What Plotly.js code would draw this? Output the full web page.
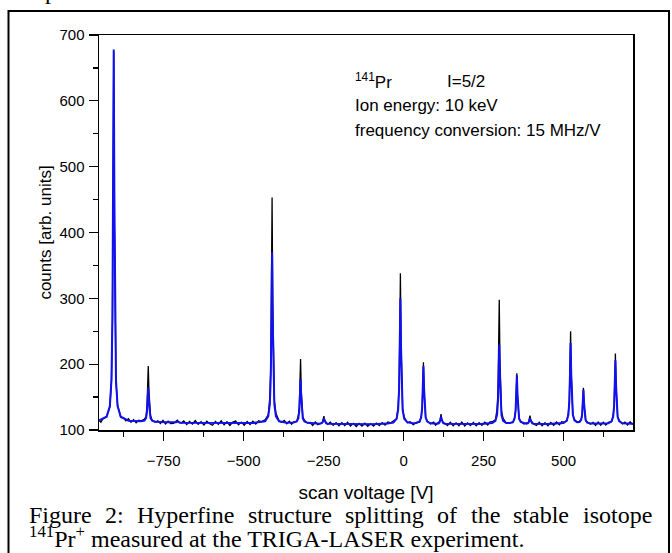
<!DOCTYPE html>
<html>
<head>
<meta charset="utf-8">
<script src="https://cdn.plot.ly/plotly-3.0.1.min.js"></script>
<style>html,body{margin:0;padding:0;background:#fff;} #chart{width:672px;height:553px;}</style>
</head>
<body>
<div id="chart"></div>
<script>
// ---- Data ----
// measured spectrum (black)
const dataVoltage = [
-952,-946,-940,-934,
-928,-918,-913,-910,-908,-906,-904,-902,-899,-894,-884,
-876,-868,-860,-852,-844,-836,-828,
-820,-810,-805,-802,-800,-798,-796,-794,-791,-786,-776,
-768,-760,-752,-744,-736,-728,
-719,-714,-711,-709,-707,-705,-703,-700,-695,
-687,-678,-669,-660,-651,-642,-633,-624,-615,-606,-597,-588,-579,-570,-561,-552,-543,-534,-525,-516,-507,-498,-489,-480,-471,-462,-453,-444,
-433,-423,-418,-415,-413,-411,-409,-407,-404,-399,-389,
-381,-373,-365,-357,-350,
-344,-334,-329,-326,-324,-322,-320,-318,-315,-310,-300,
-292,-284,-276,-268,
-261,-256,-253,-251,-249,-247,-245,-242,-237,
-229,-220,-211,-202,-193,-184,-175,-166,-157,-148,-139,-130,-121,-112,-103,-94,-85,-76,-67,-58,-49,-40,
-32,-22,-17,-14,-12,-10,-8,-6,-3,2,12,
20,30,
40,50,55,58,60,62,64,66,69,74,84,
94,100,
105,110,113,115,117,119,121,124,129,
137,146,155,164,173,182,191,200,209,218,227,236,245,254,263,270,
277,287,292,295,297,299,301,303,306,311,321,
327,
332,342,347,350,352,354,356,358,361,366,376,
383,388,391,393,395,397,399,402,407,
415,424,433,442,451,460,469,478,487,494,
500,510,515,518,520,522,524,526,529,534,542,
550,555,558,560,562,564,566,569,574,584,
592,600,608,616,624,632,
640,650,655,658,660,662,664,666,669,674,684,
692,700,708,716];
const dataCounts = [
114.9,111.8,117.0,118.3,
121.5,135.2,176,266,425,674,418,262,173,138,119,
118.6,113.9,117.3,111.8,115.7,110.9,114.8,
114,116.5,120.5,136,157,197,160,133.5,122,114.8,111.9,
114.1,109.9,114.6,109.3,113.5,109.8,
110.2,112.3,112.5,114,115,113.6,112.4,111.0,110.6,
113.8,108.2,112.9,109.1,114.2,108.6,112.5,107.7,113.3,109.4,107.2,113.0,108.8,113.9,107.9,112.4,107.0,112.1,113.6,107.8,112.0,107.1,112.9,108.4,113.2,108.9,114.0,112.3,
115.5,123,149,200,302,453,295,205,146,125.5,113.6,
111.8,114.6,109.4,113.3,108.9,
112.5,113.2,122,135,166,208,161,138,119.5,115,110.4,
111.4,106.9,112.2,108.1,
110.1,110.1,113.0,116.2,121,115.5,112.6,111.4,108.7,
111.9,107.0,111.2,106.4,111.0,106.8,111.6,106.0,110.1,105.4,109.9,105.8,110.3,105.6,109.7,106.0,110.5,106.7,111.3,107.4,112.2,110.8,
113.2,117,136,168,239,338,231,173,133,119.5,111,
112.6,108.2,
111.5,112,120.5,133,163,203,158,136,118.2,113.9,109.3,
112.0,107.3,
109.8,111.4,113.5,117.8,124,117.0,114.0,110.6,110.3,
106.8,111.6,106.4,110.9,106.5,112.2,106.1,110.6,106.7,111.5,106.5,111.0,107.0,111.9,107.6,112.4,
112.6,115.4,131.5,158,216,298,209,162.5,128.6,117.8,110.5,
111.2,
111.2,111.3,118.7,128.5,153.5,186,149.5,131.2,116.5,113.2,109,
110.6,110.5,112.8,116.5,122,116.0,112.6,111.5,109.1,
106.9,111.8,106.6,111.2,106.3,111.5,107.2,112.1,107.8,112.6,
112,113.6,126,145.5,189.5,250,183.5,149,123.4,115.8,112.5,
113.1,116.2,122.6,141.2,164,137.6,125,114.1,112.4,108.8,
111.7,106.8,112.2,107.3,111.9,107.6,
111.6,112.7,122,136.5,170,216,165.5,139.5,119.6,114.7,109.4,
112.1,107.5,112.5,108.2];

// fitted curve (blue)
const fitVoltage = [-952,
-928,-918,-913,-910,-908,-906,-904,-902,-899,-894,-884,
-860,
-820,-810,-805,-802,-800,-798,-796,-794,-791,-786,-776,
-740,
-719,-714,-711,-709,-707,-705,-703,-700,-695,
-650,-550,-470,
-433,-423,-418,-415,-413,-411,-409,-407,-404,-399,-389,
-365,
-344,-334,-329,-326,-324,-322,-320,-318,-315,-310,-300,
-261,-256,-253,-251,-249,-247,-245,-242,-237,
-180,-100,-50,
-32,-22,-17,-14,-12,-10,-8,-6,-3,2,12,
30,
40,50,55,58,60,62,64,66,69,74,84,
105,110,113,115,117,119,121,124,129,
180,240,
277,287,292,295,297,299,301,303,306,311,321,
332,342,347,350,352,354,356,358,361,366,376,
383,388,391,393,395,397,399,402,407,
450,
500,510,515,518,520,522,524,526,529,534,542,
550,555,558,560,562,564,566,569,574,584,
620,
640,650,655,658,660,662,664,666,669,674,684,
717];
const fitCounts = [114.6,
120.2,136.5,176.8,271.8,457.7,678,457.7,271.8,176.8,136.5,120.2,
114.2,
113.2,114.4,118.2,127.1,144.5,165,144.3,126.9,118.0,114.2,112.7,
111.7,
111.1,111.2,111.6,112.2,113,112.2,111.6,111.2,111.1,
111,110.5,110.8,
113.3,120.8,139.4,183.1,268.6,370,268.6,183.1,139.4,120.8,113.3,
111.2,
111.3,113.0,117.7,128.9,151.0,177,150.9,128.8,117.6,112.8,110.9,
109.4,110.0,111.5,114.5,118,114.5,111.5,110.0,109.4,
109,108.6,109.7,
111.4,116.9,130.6,162.7,225.5,300,225.5,162.7,130.6,116.9,111.6,
110.2,
110.6,112.9,119.0,133.7,162.7,197,162.7,133.7,118.9,112.7,110.1,
109.5,110.2,112.1,115.7,120,115.7,112.1,110.2,109.5,
109,109.3,
110.5,114.0,122.7,143.0,182.8,230,182.8,143.0,122.7,114.0,110.5,
110.5,112.4,117.5,129.8,154.1,183,154.1,129.8,117.4,112.1,109.9,
109.4,110.0,111.5,114.5,118,114.5,111.5,110.0,109.4,
109.3,
110.6,114.2,123.0,143.7,184.1,232,184.1,143.8,123.1,114.5,111.7,
112.2,115.3,123.8,140.8,161,140.7,123.6,114.9,111.2,109.9,
109.7,
110.2,113.0,120.0,136.3,168.2,206,168.2,136.3,120.0,113.0,110.2,
109.5];

const xTickStep = 250;
const yTickStep = 100;
const xRange = [-952, 717];
const yRange = [100, 700];

const xTitle = 'scan voltage [V]';
const yTitle = 'counts [arb. units]';
const infoIsotope = '<sup>141</sup>Pr';
const infoSpin = 'I=5/2';
const infoEnergy = 'Ion energy: 10 keV';
const infoConv = 'frequency conversion: 15 MHz/V';
const captionLine1 = ['Figure', '2:', 'Hyperfine', 'structure', 'splitting', 'of', 'the', 'stable', 'isotope'];
const captionLine2 = '<sup>141</sup>Pr<sup>+</sup> measured at the TRIGA-LASER experiment.';

// ---- layout helpers (pixel geometry of the figure) ----
const W = 672, H = 553;
const PL = 99, PR = 633, PT = 35, PB = 430;
const px = x => (x - PL) / (PR - PL);
const py = y => (PB - y) / (PB - PT);

const sans = 'Liberation Sans, Arial, sans-serif';
const serifName = 'Liberation Serif';
const serif = 'Liberation Serif, Times New Roman, serif';
const capSize = 24;

const annotations = [];
function ann(text, x, y, size, fam, xanchor) {
  annotations.push({text: text, xref: 'paper', yref: 'paper', x: px(x), y: py(y),
    xanchor: xanchor || 'left', yanchor: 'middle', showarrow: false,
    font: {family: fam, size: size, color: '#000'}, borderpad: 0});
}
ann(infoIsotope, 354, 81, 17, sans);
ann(infoSpin, 446, 82, 17, sans);
ann(infoEnergy, 354, 106, 17, sans);
ann(infoConv, 354, 130, 17, sans);

// justified first caption line
const cv = document.createElement('canvas').getContext('2d');
cv.font = capSize + 'px "' + serifName + '"';
const widths = captionLine1.map(w => cv.measureText(w).width);
const left = 28, right = 651;
const sumW = widths.reduce((a, b) => a + b, 0);
const gap = (right - left - sumW) / (captionLine1.length - 1);
let cx = left;
captionLine1.forEach((w, i) => { ann(w, cx, 515, capSize, serif); cx += widths[i] + gap; });
ann(captionLine2, 28, 537, capSize, serif);
ann('p', 51, -9, capSize, serif, 'center');

const traces = [
  {x: dataVoltage, y: dataCounts, type: 'scatter', mode: 'lines',
   line: {color: '#000000', width: 1.3}, hoverinfo: 'skip', showlegend: false},
  {x: fitVoltage, y: fitCounts, type: 'scatter', mode: 'lines',
   line: {color: '#1010f0', width: 2}, hoverinfo: 'skip', showlegend: false}
];

const axisCommon = {
  showgrid: false, zeroline: false, showline: true, mirror: true,
  linecolor: '#000', linewidth: 1.5, ticks: 'outside', ticklen: 9, tickwidth: 1.3,
  tickcolor: '#000', tickfont: {family: sans, size: 15, color: '#000'}
};

const layout = {
  width: W, height: H,
  margin: {l: PL, r: W - PR, t: PT, b: H - PB},
  paper_bgcolor: '#fff', plot_bgcolor: '#fff',
  showlegend: false,
  xaxis: Object.assign({}, axisCommon, {
    range: xRange, tick0: 0, dtick: xTickStep, ticklabelstandoff: 7,
    minor: {dtick: xTickStep / 2, ticks: 'outside', ticklen: 5, tickwidth: 1.3, tickcolor: '#000'},
    title: {text: xTitle, font: {family: sans, size: 19, color: '#000'}, standoff: 18}
  }),
  yaxis: Object.assign({}, axisCommon, {
    range: yRange, tick0: 0, dtick: yTickStep, ticklabelstandoff: 1,
    minor: {dtick: yTickStep / 2, ticks: 'outside', ticklen: 5, tickwidth: 1.3, tickcolor: '#000'},
    title: {text: yTitle, font: {family: sans, size: 17, color: '#000'}, standoff: 3}
  }),
  annotations: annotations,
  shapes: [{type: 'rect', xref: 'paper', yref: 'paper',
    x0: px(8.5), x1: px(669), y0: py(11), y1: py(575),
    line: {color: '#000', width: 2}, fillcolor: 'rgba(0,0,0,0)'}]
};

Plotly.newPlot('chart', traces, layout, {displayModeBar: false, staticPlot: true});
</script>
</body>
</html>
